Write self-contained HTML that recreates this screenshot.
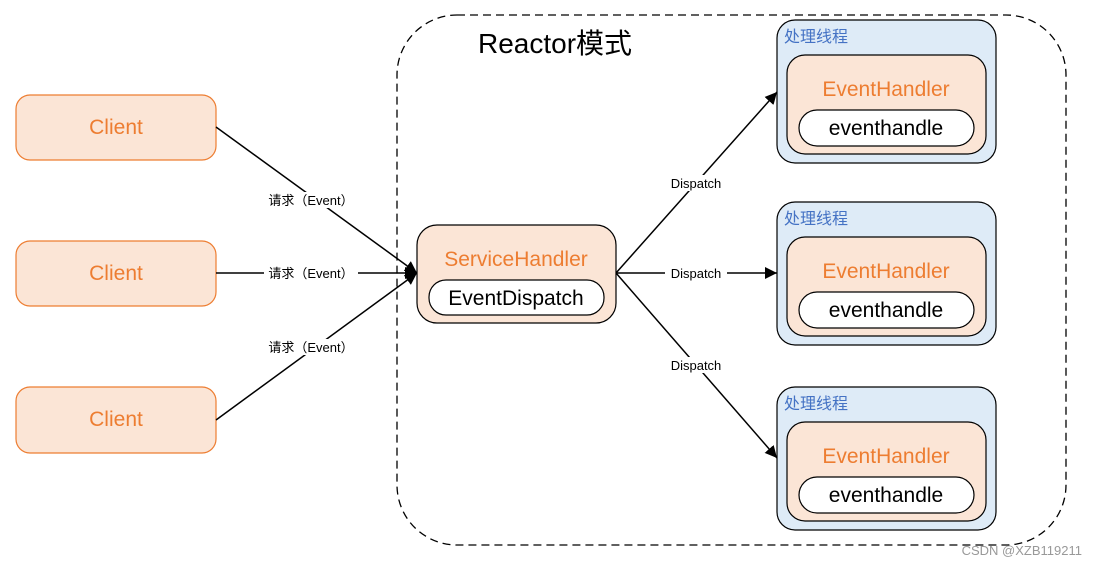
<!DOCTYPE html>
<html><head><meta charset="utf-8"><style>body{margin:0;background:#fff}svg{display:block}text{font-family:"Liberation Sans","Noto Sans CJK SC",sans-serif}</style></head><body>
<svg width="1097" height="566" viewBox="0 0 1097 566" xmlns="http://www.w3.org/2000/svg">
<defs><marker id="a" viewBox="0 0 10 10" refX="10" refY="5" markerWidth="12" markerHeight="12" markerUnits="userSpaceOnUse" orient="auto"><path d="M0,0L10,5L0,10z" fill="#000"/></marker></defs>
<rect x="397" y="15" width="669" height="530" rx="60" fill="none" stroke="#000" stroke-width="1.3" stroke-dasharray="8,5"/>
<text x="478" y="53" font-size="28" fill="#000">Reactor模式</text>
<g fill="#FBE5D6" stroke="#ED7D31" stroke-width="1.2">
<rect x="16" y="95" width="200" height="65" rx="14"/>
<rect x="16" y="241" width="200" height="65" rx="14"/>
<rect x="16" y="387" width="200" height="66" rx="14"/>
</g>
<g fill="#ED7D31" font-size="21" text-anchor="middle">
<text x="116" y="134">Client</text><text x="116" y="280">Client</text><text x="116" y="426">Client</text>
</g>
<g stroke="#000" stroke-width="1.5" fill="none" marker-end="url(#a)">
<line x1="216" y1="127" x2="417" y2="273"/>
<line x1="216" y1="273" x2="417" y2="273"/>
<line x1="216" y1="420" x2="417" y2="273"/>
<line x1="616" y1="273" x2="777" y2="92"/>
<line x1="616" y1="273" x2="777" y2="273"/>
<line x1="616" y1="273" x2="777" y2="458"/>
</g>
<g font-size="13" text-anchor="middle">
<rect x="264" y="192" width="94" height="16" fill="#fff"/><text x="311" y="205">请求（Event）</text>
<rect x="264" y="265" width="94" height="16" fill="#fff"/><text x="311" y="278">请求（Event）</text>
<rect x="264" y="339" width="94" height="16" fill="#fff"/><text x="311" y="352">请求（Event）</text>
<rect x="665" y="175" width="62" height="16" fill="#fff"/><text x="696" y="188">Dispatch</text>
<rect x="665" y="265" width="62" height="16" fill="#fff"/><text x="696" y="278">Dispatch</text>
<rect x="665" y="357" width="62" height="16" fill="#fff"/><text x="696" y="370">Dispatch</text>
</g>
<rect x="417" y="225" width="199" height="98" rx="20" fill="#FBE5D6" stroke="#000" stroke-width="1.2"/>
<text x="516" y="266" font-size="21" fill="#ED7D31" text-anchor="middle">ServiceHandler</text>
<rect x="429" y="280" width="175" height="35" rx="17" fill="#fff" stroke="#000" stroke-width="1.2"/>
<text x="516" y="305" font-size="21" text-anchor="middle">EventDispatch</text>
<g id="t">
<rect x="777" y="20" width="219" height="143" rx="18" fill="#DEEBF7" stroke="#000" stroke-width="1.2"/>
<text x="784" y="42" font-size="16" fill="#4472C4">处理线程</text>
<rect x="787" y="55" width="199" height="99" rx="18" fill="#FBE5D6" stroke="#000" stroke-width="1.2"/>
<text x="886" y="96" font-size="21" fill="#ED7D31" text-anchor="middle">EventHandler</text>
<rect x="799" y="110" width="175" height="36" rx="18" fill="#fff" stroke="#000" stroke-width="1.2"/>
<text x="886" y="135" font-size="21" text-anchor="middle">eventhandle</text>
</g>
<use href="#t" y="182"/>
<use href="#t" y="367"/>
<text x="1082" y="555" font-size="13" fill="#999" text-anchor="end">CSDN @XZB119211</text>
</svg>
</body></html>
